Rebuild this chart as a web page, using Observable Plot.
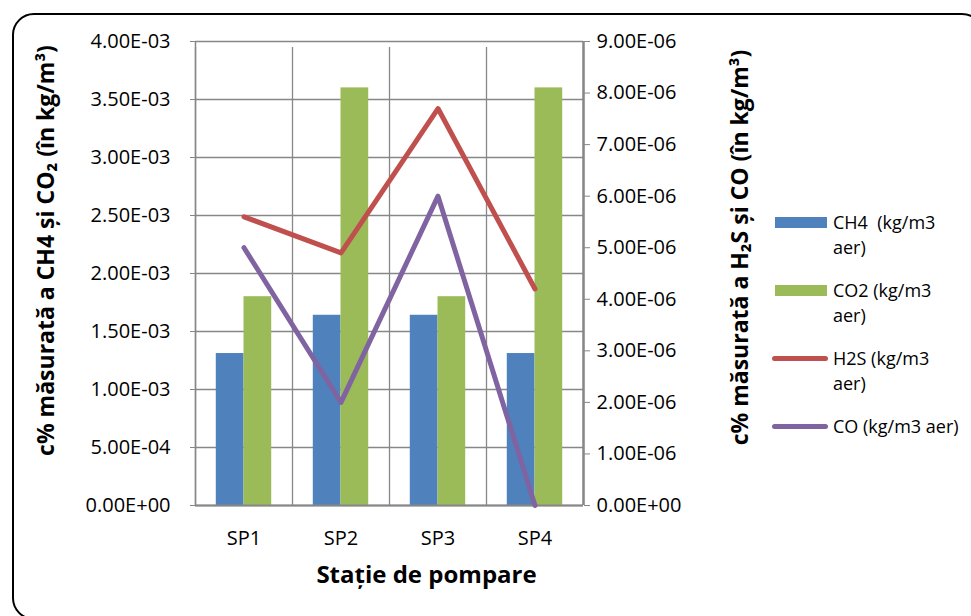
<!DOCTYPE html>
<html>
<head>
<meta charset="utf-8">
<script src="https://cdn.jsdelivr.net/npm/d3@7"></script>
<script src="https://cdn.jsdelivr.net/npm/@observablehq/plot@0.6"></script>
<style>
  html, body { margin: 0; padding: 0; background: #fff; }
  #chart { position: relative; width: 971px; height: 616px; overflow: hidden;
           font-family: "Open Sans", "Noto Sans", sans-serif; color: #000; }
  #chart svg { position: absolute; left: 0; top: 0; }
  #border { position: absolute; left: 12px; top: 13px; width: 972px; height: 607px;
            border: 2px solid #000; border-radius: 22px; box-sizing: border-box; pointer-events: none; }
  #legend { position: absolute; left: 772px; top: 210px; }
  .item { display: flex; align-items: flex-start; margin-bottom: 18px; }
  .sw { position: relative; width: 61px; height: 25px; flex: none; }
  .sw span { position: absolute; display: block; }
  .sw.bar span { left: 3px; top: 6.5px; width: 52px; height: 11px; }
  .sw.line span { left: 0; top: 10px; width: 56px; height: 5px; border-radius: 3px; }
  .txt { width: 131px; white-space: pre-wrap; font-size: 18px; line-height: 25px; }
</style>
</head>
<body>
<div id="chart">
  <div id="border"></div>
  <div id="legend"></div>
</div>
<script>
// Pumping stations and measured concentrations (kg/m3 air)
const stations = ["SP1", "SP2", "SP3", "SP4"];
const ch4 = [1.31e-3, 1.64e-3, 1.64e-3, 1.31e-3];
const co2 = [1.8e-3, 3.6e-3, 1.8e-3, 3.6e-3];
const h2s = [5.6e-6, 4.9e-6, 7.7e-6, 4.2e-6];
const co  = [5.0e-6, 2.0e-6, 6.0e-6, 0];

// Axis ticks: left axis for CH4/CO2, right axis for H2S/CO
const leftTicks  = [0, 5e-4, 1e-3, 1.5e-3, 2e-3, 2.5e-3, 3e-3, 3.5e-3, 4e-3];
const rightTicks = [0, 1e-6, 2e-6, 3e-6, 4e-6, 5e-6, 6e-6, 7e-6, 8e-6, 9e-6];

const seriesNames  = ["CH4  (kg/m3 aer)", "CO2 (kg/m3 aer)", "H2S (kg/m3 aer)", "CO (kg/m3 aer)"];
const seriesColors = ["#4F81BD", "#9BBB59", "#C0504D", "#8064A2"];
const seriesKinds  = ["bar", "bar", "line", "line"];

const xTitle = "Stație de pompare";
const leftTitle = "c% măsurată a CH4 și CO\u2082 (în kg/m\u00B3)";
const rightTitle = "c% măsurată a H\u2082S și CO (în kg/m\u00B3)";

const rows = stations.map((s, i) => ({station: s, ch4: ch4[i], co2: co2[i], h2s: h2s[i], co: co[i]}));

// Secondary axis values are mapped onto the primary y scale
const k = leftTicks[leftTicks.length - 1] / rightTicks[rightTicks.length - 1];

// Excel-style scientific notation, e.g. 4.00E-03
const fmtE = v => {
  const [m, e] = Number(v).toExponential(2).split("e");
  const n = Math.abs(+e);
  return `${m}E${+e < 0 ? "-" : "+"}${String(n).padStart(2, "0")}`;
};

const W = 971, H = 616;
const M = {top: 41, right: 388, bottom: 111, left: 195};
const band = (W - M.left - M.right) / stations.length;
const barW = band / 3.5;              // gap width 150%
const outer = (band - 2 * barW) / 2;
const grid = "#878787";
const gridW = 1.3;
const last = stations[stations.length - 1];

const chart = Plot.plot({
  width: W, height: H,
  marginTop: M.top, marginRight: M.right, marginBottom: M.bottom, marginLeft: M.left,
  style: {fontFamily: '"Open Sans", "Noto Sans", sans-serif', fontSize: "20px", color: "#000", background: "transparent"},
  x: {domain: stations, padding: 0, axis: null},
  y: {domain: [leftTicks[0], leftTicks[leftTicks.length - 1]], axis: null},
  marks: [
    // horizontal gridlines
    Plot.gridY(leftTicks, {stroke: grid, strokeOpacity: 1, strokeWidth: gridW}),
    // vertical gridlines at category boundaries, with tick marks below the axis
    Plot.ruleX(stations, {x: d => d, dx: -band / 2, y1: leftTicks[0], y2: leftTicks[leftTicks.length - 1], insetBottom: -6, stroke: grid, strokeWidth: gridW}),
    Plot.ruleX([last], {x: d => d, dx: band / 2, y1: leftTicks[0], y2: leftTicks[leftTicks.length - 1], insetBottom: -6, stroke: grid, strokeWidth: gridW}),
    // bars
    Plot.barY(rows, {x: "station", y: "ch4", fill: seriesColors[0], insetLeft: outer, insetRight: band - outer - barW}),
    Plot.barY(rows, {x: "station", y: "co2", fill: seriesColors[1], insetLeft: outer + barW, insetRight: outer}),
    // axis lines
    Plot.ruleY([leftTicks[0]], {stroke: grid, strokeWidth: 2}),
    Plot.ruleX([stations[0]], {x: d => d, dx: -band / 2, stroke: grid, strokeWidth: 1.5}),
    Plot.ruleX([last], {x: d => d, dx: band / 2, stroke: grid, strokeWidth: 2.5}),
    // lines on the secondary axis
    Plot.line(rows, {x: "station", y: d => d.h2s * k, stroke: seriesColors[2], strokeWidth: 5, strokeLinecap: "round", strokeLinejoin: "round"}),
    Plot.line(rows, {x: "station", y: d => d.co * k, stroke: seriesColors[3], strokeWidth: 5, strokeLinecap: "round", strokeLinejoin: "round"}),
    // axes
    Plot.axisY(leftTicks, {anchor: "left", tickFormat: fmtE, tickSize: 5, tickPadding: 20, stroke: grid, label: null}),
    Plot.axisY(rightTicks.map(v => v * k), {anchor: "right", tickFormat: v => fmtE(v / k), tickSize: 6, tickPadding: 7, stroke: grid, label: null}),
    Plot.axisX(stations, {anchor: "bottom", tickSize: 0, tickPadding: 25, label: null}),
    // axis titles
    Plot.text([leftTitle], {frameAnchor: "left", text: d => d, rotate: -90, dx: -149, dy: -23, textAnchor: "middle", lineAnchor: "middle", fontWeight: "bold", fontSize: 23}),
    Plot.text([rightTitle], {frameAnchor: "right", text: d => d, rotate: -90, dx: 157, dy: -26, textAnchor: "middle", lineAnchor: "middle", fontWeight: "bold", fontSize: 23}),
    Plot.text([xTitle], {frameAnchor: "bottom", text: d => d, dx: 37, dy: 70, textAnchor: "middle", lineAnchor: "middle", fontWeight: "bold", fontSize: 24})
  ]
});

const root = document.getElementById("chart");
root.insertBefore(chart, root.firstChild);

// Legend
const legend = document.getElementById("legend");
seriesNames.forEach((name, i) => {
  const item = document.createElement("div");
  item.className = "item";
  const sw = document.createElement("div");
  sw.className = "sw " + seriesKinds[i];
  const mark = document.createElement("span");
  mark.style.background = seriesColors[i];
  sw.appendChild(mark);
  const txt = document.createElement("div");
  txt.className = "txt";
  txt.textContent = name;
  item.appendChild(sw);
  item.appendChild(txt);
  legend.appendChild(item);
});
</script>
</body>
</html>
